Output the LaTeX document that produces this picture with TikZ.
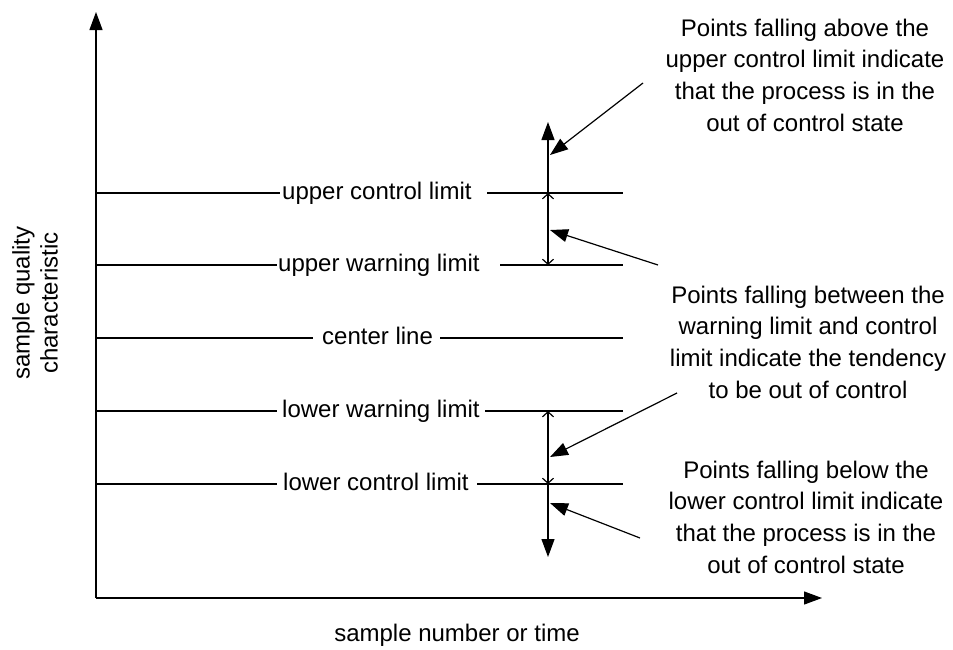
\documentclass[tikz,border=0pt]{standalone}
\usepackage{fontspec}
\setmainfont{Liberation Sans}
\usetikzlibrary{arrows.meta}
\begin{document}
\begin{tikzpicture}[x=1pt,y=-1pt,
  every node/.style={font=\fontsize{24}{31.7}\selectfont, inner sep=0pt},
  ln/.style={line width=1.2pt},
  bigtip/.style={ln,-{Triangle[length=18pt,width=13pt]}},
  dbl/.style={ln,{Straight Barb[length=5pt,width=11pt]}-{Straight Barb[length=5pt,width=11pt]}},
  lbl/.style={anchor=base west},
  anno/.style={align=center, anchor=north}]
\useasboundingbox (0,0) rectangle (953,649);
% axes
\coordinate (O) at (96,598);
\coordinate (Ytop) at (96,12);
\coordinate (Xend) at (822,598);
\draw[bigtip] (O) -- (Ytop);
\draw[bigtip] (O) -- (Xend);
% limit labels
\node[lbl] (ucl) at (282,199) {upper control limit};
\node[lbl] (uwl) at (278,271) {upper warning limit};
\node[lbl] (cl)  at (322,344) {center line};
\node[lbl] (lwl) at (282,417) {lower warning limit};
\node[lbl] (lcl) at (283,490) {lower control limit};
% limit lines
\draw[ln] (96,193) -- (280,193) (487,193) -- (623,193);
\draw[ln] (96,265) -- (277,265) (500,265) -- (623,265);
\draw[ln] (96,338) -- (313,338) (440,338) -- (623,338);
\draw[ln] (96,411) -- (277,411) (485,411) -- (623,411);
\draw[ln] (96,484) -- (277,484) (477,484) -- (623,484);
% vertical arrows
\coordinate (a0) at (548,122);
\coordinate (a1) at (548,193);
\coordinate (a2) at (548,265);
\coordinate (a3) at (548,411);
\coordinate (a4) at (548,484);
\coordinate (a5) at (548,557);
\draw[bigtip] (a1) -- (a0);
\draw[dbl] (a1) -- (a2);
\draw[dbl] (a3) -- (a4);
\draw[bigtip] (a4) -- (a5);
% annotations
\node[anno] (n1) at (805,18.5) {Points falling above the\\upper control limit indicate\\that the process is in the\\out of control state};
\node[anno] (n2) at (808,285.5) {Points falling between the\\warning limit and control\\limit indicate the tendency\\to be out of control};
\node[anno] (n3) at (806,460.5) {Points falling below the\\lower control limit indicate\\that the process is in the\\out of control state};
\coordinate (s1) at (643,83);  \coordinate (t1) at (550,155);
\coordinate (s2) at (658,265); \coordinate (t2) at (550,230);
\coordinate (s3) at (677,393); \coordinate (t3) at (550,457);
\coordinate (s4) at (640,538); \coordinate (t4) at (550,503);
\draw[bigtip] (s1) -- (t1);
\draw[bigtip] (s2) -- (t2);
\draw[bigtip] (s3) -- (t3);
\draw[bigtip] (s4) -- (t4);
% axis labels
\node[align=center, rotate=90, font=\fontsize{24}{28}\selectfont] (yl) at (35,303) {sample quality\\characteristic};
\node (xl) at (457,635) {sample number or time};
\end{tikzpicture}
\end{document}
